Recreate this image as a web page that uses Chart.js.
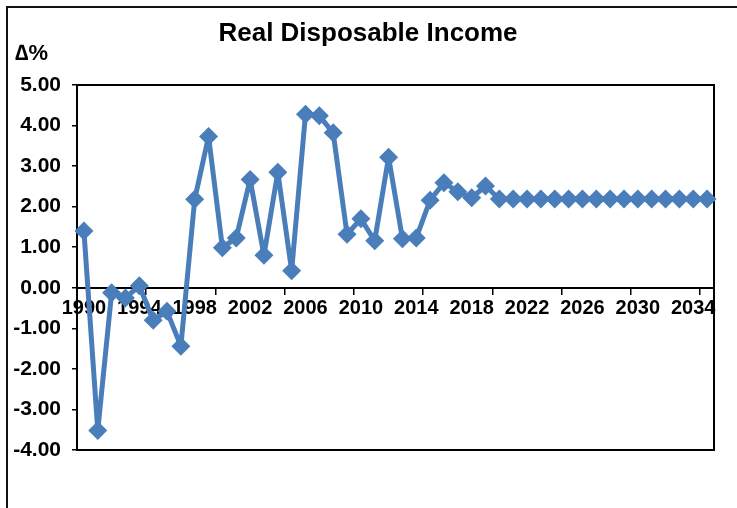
<!DOCTYPE html>
<html>
<head>
<meta charset="utf-8">
<script src="https://cdn.jsdelivr.net/npm/chart.js@4.4.1/dist/chart.umd.min.js"></script>
<style>
  body { margin: 0; background: #fff; }
  #wrap { position: relative; width: 737px; height: 508px; }
</style>
</head>
<body>
<div id="wrap"><canvas id="myChart"></canvas></div>
<script>
const years = ['1990','1991','1992','1993','1994','1995','1996','1997','1998','1999',
  '2000','2001','2002','2003','2004','2005','2006','2007','2008','2009',
  '2010','2011','2012','2013','2014','2015','2016','2017','2018','2019',
  '2020','2021','2022','2023','2024','2025','2026','2027','2028','2029',
  '2030','2031','2032','2033','2034','2035']
const income = [1.40, -3.52, -0.12, -0.25, 0.05, -0.80, -0.58, -1.44, 2.18, 3.73,
  0.99, 1.23, 2.67, 0.80, 2.85, 0.42, 4.28, 4.24, 3.82, 1.32,
  1.70, 1.16, 3.22, 1.21, 1.23, 2.16, 2.59, 2.37, 2.22, 2.51,
  2.19, 2.19, 2.19, 2.19, 2.19, 2.19, 2.19, 2.19, 2.19, 2.19,
  2.19, 2.19, 2.19, 2.19, 2.19, 2.19]
const shownYears = ['1990','1994','1998','2002','2006','2010','2014','2018','2022','2026','2030','2034']
const titleText = 'Real Disposable Income'
const unitText = '\u2206%'

const fontFam = '"Liberation Sans", Arial, sans-serif'
const blue = '#4a7ebb'

// outer frame, title, unit label, plot box
const decor = {
  id: 'decor',
  beforeDraw(chart) {
    const c = chart.ctx
    c.save()
    c.fillStyle = '#fff'
    c.fillRect(0, 0, chart.width, chart.height)
    c.strokeStyle = '#111'
    c.lineWidth = 2
    c.beginPath()
    c.moveTo(7, chart.height)
    c.lineTo(7, 7)
    c.lineTo(chart.width, 7)
    c.stroke()
    c.fillStyle = '#000'
    c.font = 'bold 26px ' + fontFam
    c.textAlign = 'center'
    c.textBaseline = 'alphabetic'
    c.fillText(titleText, 368, 41)
    c.font = 'bold 22px ' + fontFam
    c.textAlign = 'left'
    c.fillText(unitText, 15, 60)
    c.restore()
  },
  beforeDatasetsDraw(chart) {
    const a = chart.chartArea
    const c = chart.ctx
    c.save()
    c.strokeStyle = '#000'
    c.lineWidth = 2
    c.strokeRect(a.left, a.top, a.right - a.left, a.bottom - a.top)
    c.restore()
  }
}

const ctx = document.getElementById('myChart')
const myChart = new Chart(ctx, {
  type: 'line',
  data: {
    labels: years,
    datasets: [{
      data: income,
      borderColor: blue,
      backgroundColor: blue,
      borderWidth: 5,
      borderJoinStyle: 'round',
      tension: 0,
      pointStyle: 'rectRot',
      pointRadius: 9.5,
      pointBorderWidth: 0,
      pointBackgroundColor: blue,
      pointHoverRadius: 9.5
    }]
  },
  options: {
    responsive: true,
    maintainAspectRatio: false,
    animation: false,
    layout: { padding: { top: 85, right: 23, bottom: 58, left: 0 } },
    plugins: {
      legend: { display: false },
      tooltip: { enabled: false },
      title: { display: false }
    },
    scales: {
      x: {
        type: 'category',
        position: { y: 0 },
        offset: true,
        grid: {
          offset: true,
          drawOnChartArea: false,
          tickLength: 6,
          lineWidth: 1.5,
          color: c => (c.index > 0 && c.index % 5 === 0) ? '#000' : 'rgba(0,0,0,0)'
        },
        border: { color: '#000', width: 2 },
        ticks: {
          autoSkip: false,
          maxRotation: 0,
          minRotation: 0,
          padding: 3,
          color: '#000',
          font: { family: fontFam, size: 20, weight: 'bold' },
          callback: (v, i) => shownYears.includes(years[i]) ? years[i] : ''
        }
      },
      y: {
        min: -4,
        max: 5,
        afterFit: s => { s.width = 77 },
        grid: { drawOnChartArea: false, tickLength: 5, lineWidth: 1.5, color: '#000' },
        border: { color: '#000', width: 2 },
        ticks: {
          stepSize: 1,
          padding: 11,
          color: '#000',
          font: { family: fontFam, size: 21, weight: 'bold' },
          callback: v => v.toFixed(2)
        }
      }
    }
  },
  plugins: [decor]
})
</script>
</body>
</html>
